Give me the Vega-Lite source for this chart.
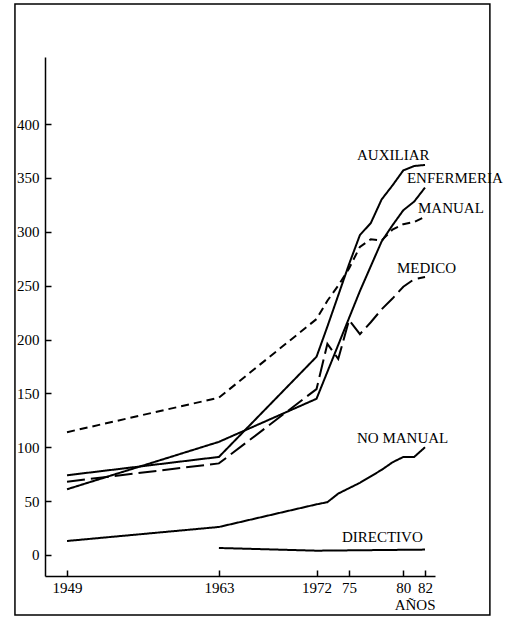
{
  "$schema": "https://vega.github.io/schema/vega-lite/v6.json",
  "width": 390,
  "height": 519,
  "autosize": {"type": "none"},
  "padding": {"left": 45, "top": 57, "right": 71, "bottom": 44},
  "background": "white",
  "config": {
    "view": {"stroke": null},
    "font": "Liberation Serif",
    "axis": {
      "grid": false,
      "domainColor": "black",
      "domainWidth": 1.5,
      "tickColor": "black",
      "tickWidth": 1.5,
      "tickSize": -6,
      "labelFont": "Liberation Serif",
      "labelFontSize": 15,
      "labelColor": "black",
      "labelFlush": false,
      "titleFont": "Liberation Serif",
      "titleFontWeight": "normal",
      "titleFontSize": 15,
      "titleColor": "black"
    }
  },
  "datasets": {
    "series": [
      {"serie": "AUXILIAR", "year": 1949, "value": 74},
      {"serie": "AUXILIAR", "year": 1963, "value": 91},
      {"serie": "AUXILIAR", "year": 1972, "value": 184},
      {"serie": "AUXILIAR", "year": 1973, "value": 212},
      {"serie": "AUXILIAR", "year": 1974, "value": 241},
      {"serie": "AUXILIAR", "year": 1975, "value": 270},
      {"serie": "AUXILIAR", "year": 1976, "value": 297},
      {"serie": "AUXILIAR", "year": 1977, "value": 308},
      {"serie": "AUXILIAR", "year": 1978, "value": 330},
      {"serie": "AUXILIAR", "year": 1979, "value": 343},
      {"serie": "AUXILIAR", "year": 1980, "value": 357},
      {"serie": "AUXILIAR", "year": 1981, "value": 361},
      {"serie": "AUXILIAR", "year": 1982, "value": 362},
      {"serie": "ENFERMERIA", "year": 1949, "value": 61},
      {"serie": "ENFERMERIA", "year": 1963, "value": 105},
      {"serie": "ENFERMERIA", "year": 1972, "value": 145},
      {"serie": "ENFERMERIA", "year": 1973, "value": 170},
      {"serie": "ENFERMERIA", "year": 1974, "value": 195},
      {"serie": "ENFERMERIA", "year": 1975, "value": 220},
      {"serie": "ENFERMERIA", "year": 1976, "value": 245},
      {"serie": "ENFERMERIA", "year": 1977, "value": 268},
      {"serie": "ENFERMERIA", "year": 1978, "value": 291},
      {"serie": "ENFERMERIA", "year": 1979, "value": 306},
      {"serie": "ENFERMERIA", "year": 1980, "value": 320},
      {"serie": "ENFERMERIA", "year": 1981, "value": 328},
      {"serie": "ENFERMERIA", "year": 1982, "value": 341},
      {"serie": "MANUAL", "year": 1949, "value": 114},
      {"serie": "MANUAL", "year": 1963, "value": 146},
      {"serie": "MANUAL", "year": 1972, "value": 219},
      {"serie": "MANUAL", "year": 1973, "value": 236},
      {"serie": "MANUAL", "year": 1974, "value": 250},
      {"serie": "MANUAL", "year": 1975, "value": 266},
      {"serie": "MANUAL", "year": 1976, "value": 286},
      {"serie": "MANUAL", "year": 1977, "value": 293},
      {"serie": "MANUAL", "year": 1978, "value": 292},
      {"serie": "MANUAL", "year": 1979, "value": 302},
      {"serie": "MANUAL", "year": 1980, "value": 307},
      {"serie": "MANUAL", "year": 1981, "value": 309},
      {"serie": "MANUAL", "year": 1982, "value": 314},
      {"serie": "MEDICO", "year": 1949, "value": 68},
      {"serie": "MEDICO", "year": 1963, "value": 85},
      {"serie": "MEDICO", "year": 1972, "value": 154},
      {"serie": "MEDICO", "year": 1973, "value": 196},
      {"serie": "MEDICO", "year": 1974, "value": 182},
      {"serie": "MEDICO", "year": 1975, "value": 218},
      {"serie": "MEDICO", "year": 1976, "value": 205},
      {"serie": "MEDICO", "year": 1977, "value": 216},
      {"serie": "MEDICO", "year": 1978, "value": 228},
      {"serie": "MEDICO", "year": 1979, "value": 238},
      {"serie": "MEDICO", "year": 1980, "value": 249},
      {"serie": "MEDICO", "year": 1981, "value": 256},
      {"serie": "MEDICO", "year": 1982, "value": 258},
      {"serie": "NO MANUAL", "year": 1949, "value": 13},
      {"serie": "NO MANUAL", "year": 1963, "value": 26},
      {"serie": "NO MANUAL", "year": 1972, "value": 47},
      {"serie": "NO MANUAL", "year": 1973, "value": 49},
      {"serie": "NO MANUAL", "year": 1974, "value": 57},
      {"serie": "NO MANUAL", "year": 1975, "value": 62},
      {"serie": "NO MANUAL", "year": 1976, "value": 67},
      {"serie": "NO MANUAL", "year": 1977, "value": 73},
      {"serie": "NO MANUAL", "year": 1978, "value": 79},
      {"serie": "NO MANUAL", "year": 1979, "value": 86},
      {"serie": "NO MANUAL", "year": 1980, "value": 91},
      {"serie": "NO MANUAL", "year": 1981, "value": 91},
      {"serie": "NO MANUAL", "year": 1982, "value": 100},
      {"serie": "DIRECTIVO", "year": 1963, "value": 6.5},
      {"serie": "DIRECTIVO", "year": 1972, "value": 4},
      {"serie": "DIRECTIVO", "year": 1982, "value": 5}
    ],
    "labels": [
      {"label": "AUXILIAR", "year": 1975.73, "value": 366.6},
      {"label": "ENFERMERIA", "year": 1980.33, "value": 345.2},
      {"label": "MANUAL", "year": 1981.35, "value": 317.4},
      {"label": "MEDICO", "year": 1979.41, "value": 261.7},
      {"label": "NO MANUAL", "year": 1975.73, "value": 103.9},
      {"label": "DIRECTIVO", "year": 1974.34, "value": 12.1}
    ]
  },
  "layer": [
    {
      "data": {"name": "series"},
      "mark": {"type": "line", "color": "black", "strokeWidth": 2},
      "encoding": {
        "x": {
          "field": "year",
          "type": "quantitative",
          "scale": {"domain": [1946.97, 1982.92], "nice": false, "zero": false},
          "axis": {
            "values": [1949, 1963, 1972, 1975, 1980, 1982],
            "labelExpr": "datum.value < 1973 ? '' + datum.value : '' + (datum.value - 1900)",
            "labelPadding": 10,
            "title": "AÑOS",
            "titleAnchor": "end",
            "titlePadding": 2
          }
        },
        "y": {
          "field": "value",
          "type": "quantitative",
          "scale": {"domain": [-19.5, 462.2], "nice": false, "zero": false},
          "axis": {
            "values": [0, 50, 100, 150, 200, 250, 300, 350, 400],
            "labelPadding": 12,
            "title": null
          }
        },
        "detail": {"field": "serie"},
        "strokeDash": {
          "field": "serie",
          "type": "nominal",
          "scale": {
            "domain": ["AUXILIAR", "ENFERMERIA", "MANUAL", "MEDICO", "NO MANUAL", "DIRECTIVO"],
            "range": [[1, 0], [1, 0], [8, 5], [18, 6], [1, 0], [1, 0]]
          },
          "legend": null
        }
      }
    },
    {
      "data": {"name": "labels"},
      "mark": {"type": "text", "align": "left", "baseline": "alphabetic", "fontSize": 15, "font": "Liberation Serif", "color": "black"},
      "encoding": {
        "x": {"field": "year", "type": "quantitative", "scale": {"domain": [1946.97, 1982.92], "nice": false, "zero": false}},
        "y": {"field": "value", "type": "quantitative", "scale": {"domain": [-19.5, 462.2], "nice": false, "zero": false}},
        "text": {"field": "label"}
      }
    },
    {
      "data": {"values": [{}]},
      "mark": {"type": "rect", "filled": false, "color": "black", "strokeWidth": 1.5},
      "encoding": {
        "x": {"datum": 1944.2, "type": "quantitative", "scale": {"domain": [1946.97, 1982.92], "nice": false, "zero": false}},
        "x2": {"datum": 1987.98},
        "y": {"datum": 511.4, "type": "quantitative", "scale": {"domain": [-19.5, 462.2], "nice": false, "zero": false}},
        "y2": {"datum": -55.7}
      }
    }
  ]
}
